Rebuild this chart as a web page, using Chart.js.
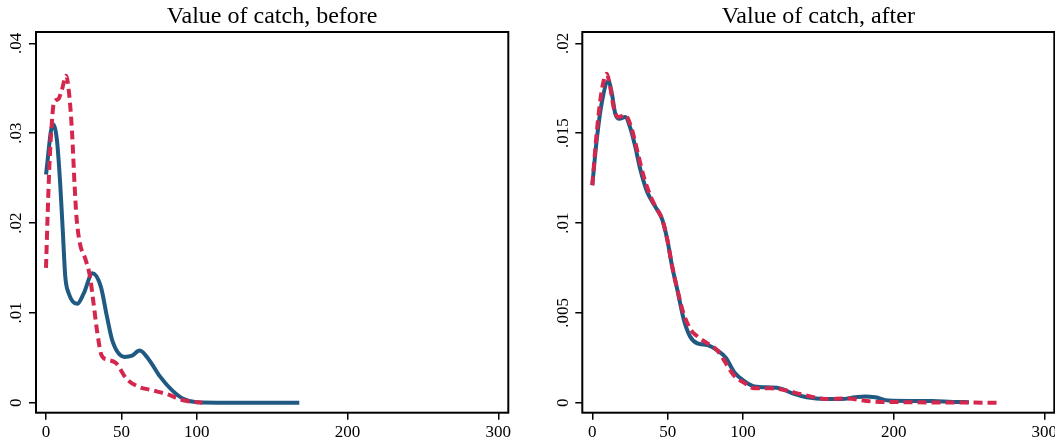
<!DOCTYPE html>
<html>
<head>
<meta charset="utf-8">
<script src="https://cdn.jsdelivr.net/npm/chart.js@4.4.1/dist/chart.umd.min.js"></script>
<style>
  body { margin: 0; background: #fff; }
  #wrap { position: relative; width: 1055px; height: 442px; }
  canvas { position: absolute; top: 0; }
</style>
</head>
<body>
<div id="wrap">
  <canvas id="before" width="527" height="442" style="left:0"></canvas>
  <canvas id="after" width="528" height="442" style="left:527px"></canvas>
</div>
<script>
// tick values / labels
const xTicks = [0, 50, 100, 200, 300];
const beforeYTicks = [0, 0.01, 0.02, 0.03, 0.04];
const beforeYLabels = ['0', '.01', '.02', '.03', '.04'];
const afterYTicks = [0, 0.005, 0.01, 0.015, 0.02];
const afterYLabels = ['0', '.005', '.01', '.015', '.02'];

// "before" panel: solid (blue) and dashed (red) curves
const beforeSolidX = [0, 4.5, 7.2, 9.4, 11.2, 12.8, 15, 20.7, 25.1, 30.8, 36.4, 40.4, 44.2, 52.1, 56.6, 62.2, 67.8, 75.7, 83.5, 91.4, 100, 120, 140, 168];
const beforeSolidY = [0.0254, 0.0310, 0.0293, 0.0244, 0.0189, 0.0140, 0.0122, 0.0110, 0.0122, 0.0144, 0.0129, 0.0096, 0.0068, 0.0051, 0.0052, 0.0058, 0.0049, 0.0029, 0.0014, 0.0004, 0.00005, 0, 0, 0];
const beforeDashX = [0, 1, 2.2, 3.6, 5, 6.9, 8.3, 10.5, 13.4, 15.5, 17.3, 18.9, 20.2, 22.4, 26.3, 29.2, 31.8, 34.1, 36.8, 40.8, 46.5, 53.2, 61.1, 70, 81.3, 90.2, 103.7];
const beforeDashY = [0.0150, 0.0205, 0.0262, 0.0305, 0.0332, 0.0337, 0.0338, 0.0348, 0.0364, 0.0341, 0.0300, 0.0244, 0.0207, 0.0178, 0.0159, 0.0140, 0.0107, 0.0077, 0.0053, 0.0048, 0.0044, 0.0027, 0.0018, 0.0014, 0.0009, 0.0003, 0];

// "after" panel
const afterSolidX = [0, 2.9, 6.3, 10.7, 13, 15.2, 18, 21.8, 25.2, 28.5, 31.8, 36.3, 41.9, 46.4, 49.7, 53, 56.4, 60.8, 64.8, 69.7, 76.4, 83.1, 88.6, 94.2, 100.9, 107.6, 118.7, 124.6, 133.4, 142.3, 154.4, 165.5, 174.4, 181.1, 187.8, 196.7, 210.3, 225.8, 239, 250];
const afterSolidY = [0.0121, 0.0146, 0.0167, 0.0179, 0.0172, 0.0161, 0.0158, 0.0159, 0.0153, 0.01425, 0.0130, 0.01175, 0.0109, 0.0102, 0.0091, 0.00757, 0.0063, 0.0046, 0.0037, 0.0033, 0.0032, 0.0029, 0.0025, 0.0017, 0.0012, 0.0009, 0.00085, 0.0008, 0.0005, 0.0003, 0.0002, 0.0002, 0.0003, 0.00035, 0.0003, 0.00012, 0.0001, 0.0001, 0.00004, 0.00003];
const afterDashX = [0, 2.9, 6.3, 9.6, 11.8, 14.5, 17.4, 21.8, 26.3, 29.6, 34.1, 38.6, 42, 46.4, 49.7, 53, 56.4, 60.8, 65.9, 69.7, 76.4, 83.1, 88.6, 94.2, 100.9, 107.6, 118.7, 127.6, 138.7, 156.4, 167.5, 185.2, 205, 240, 269];
const afterDashY = [0.0121, 0.0150, 0.0174, 0.0183, 0.0176, 0.0163, 0.0159, 0.0160, 0.0152, 0.0141, 0.0126, 0.0115, 0.0109, 0.0102, 0.0091, 0.0076, 0.0063, 0.0049, 0.0040, 0.0037, 0.0033, 0.0029, 0.0022, 0.0015, 0.0011, 0.0008, 0.0008, 0.0007, 0.00047, 0.0002, 0.00024, 0.00007, 0.00003, 0.00001, 0];

const BLUE = '#205a82';
const RED = '#d5264e';
const FONT = '"Liberation Serif", "Times New Roman", serif';

Chart.defaults.font.family = FONT;
Chart.defaults.color = '#000';

const toPoints = (xs, ys) => xs.map((x, i) => ({ x: x, y: ys[i] }));

// frame around the plot region + rotated y tick labels
const framePlugin = {
  id: 'frame',
  afterDraw(chart, args, opts) {
    const ctx = chart.ctx;
    const a = chart.chartArea;
    const y = chart.scales.y;
    ctx.save();
    ctx.strokeStyle = '#000';
    ctx.lineWidth = 2;
    ctx.strokeRect(a.left, a.top, a.right - a.left, a.bottom - a.top);
    ctx.fillStyle = '#000';
    ctx.font = '17px ' + FONT;
    ctx.textAlign = 'center';
    ctx.textBaseline = 'middle';
    opts.labels.forEach((lab, i) => {
      const py = y.getPixelForValue(opts.values[i]);
      ctx.save();
      ctx.translate(a.left - 19, py);
      ctx.rotate(-Math.PI / 2);
      ctx.fillText(lab, 0, 0);
      ctx.restore();
    });
    ctx.restore();
  }
};

function makePanel(id, title, solid, dash, yTicks, yLabels, yMin, yMax, axisWidth, padRight) {
  const ctx = document.getElementById(id).getContext('2d');
  return new Chart(ctx, {
    type: 'line',
    data: {
      datasets: [
        {
          data: dash,
          borderColor: RED,
          borderWidth: 4,
          borderDash: [9, 5],
          pointRadius: 0,
          cubicInterpolationMode: 'monotone',
          fill: false,
          order: 0,
        },
        {
          data: solid,
          borderColor: BLUE,
          borderWidth: 4,
          pointRadius: 0,
          cubicInterpolationMode: 'monotone',
          fill: false,
          order: 1,
        }
      ]
    },
    options: {
      responsive: false,
      animation: false,
      events: [],
      layout: { padding: { left: 0, right: padRight, top: 0, bottom: 0 } },
      scales: {
        x: {
          type: 'linear',
          min: -6.64,
          max: 306.64,
          afterBuildTicks: s => { s.ticks = xTicks.map(v => ({ value: v })); },
          afterFit: s => { s.height = 29.3; s.paddingLeft = 0; s.paddingRight = 0; },
          ticks: { autoSkip: false, maxRotation: 0, padding: 3, font: { size: 17 }, color: '#000',
                   callback: v => String(v) },
          grid: { drawOnChartArea: false, drawTicks: true, tickLength: 7, color: '#000', lineWidth: 1.5 },
          border: { display: false },
        },
        y: {
          type: 'linear',
          min: yMin,
          max: yMax,
          afterBuildTicks: s => { s.ticks = yTicks.map(v => ({ value: v })); },
          afterFit: s => { s.width = axisWidth; s.paddingTop = 0; s.paddingBottom = 0; },
          ticks: { display: false },
          grid: { drawOnChartArea: false, drawTicks: true, tickLength: 7, color: '#000', lineWidth: 1.5 },
          border: { display: false },
        }
      },
      plugins: {
        legend: { display: false },
        tooltip: { enabled: false },
        title: {
          display: true,
          text: title,
          fullSize: false,
          color: '#000',
          font: { size: 24, weight: 'normal', family: FONT },
          padding: { top: 2.5, bottom: 0.7 },
        },
        frame: { values: yTicks, labels: yLabels },
      }
    },
    plugins: [framePlugin]
  });
}

makePanel('before', 'Value of catch, before',
  toPoints(beforeSolidX, beforeSolidY), toPoints(beforeDashX, beforeDashY),
  beforeYTicks, beforeYLabels, -0.001113, 0.04126, 36, 18.7);

makePanel('after', 'Value of catch, after',
  toPoints(afterSolidX, afterSolidY), toPoints(afterDashX, afterDashY),
  afterYTicks, afterYLabels, -0.000557, 0.02063, 55.3, 0.7);
</script>
</body>
</html>
